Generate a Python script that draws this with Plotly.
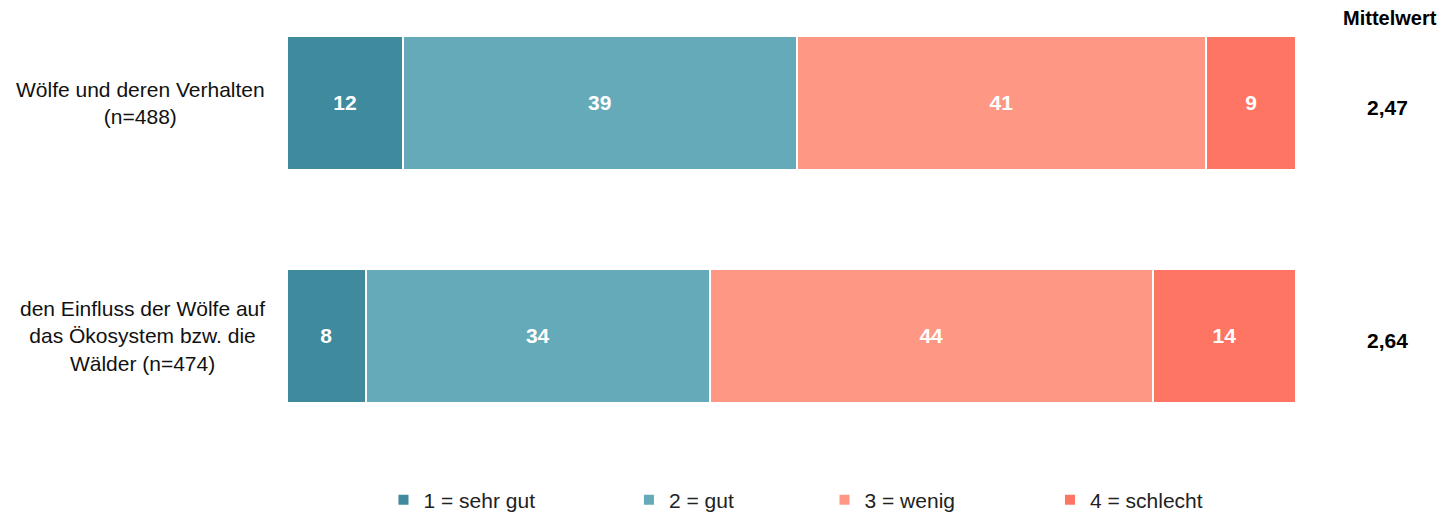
import plotly.graph_objects as go

categories = [
    "Wölfe und deren Verhalten<br>(n=488)",
    "den Einfluss der Wölfe auf<br>das Ökosystem bzw. die<br>Wälder (n=474)",
]
series_names = ["1 = sehr gut", "2 = gut", "3 = wenig", "4 = schlecht"]
series_colors = ["#3F8A9C", "#65AAB9", "#FF9785", "#FF7563"]
# percentage shares per category
values = [
    [11.5, 7.8],
    [39.0, 34.1],
    [40.6, 43.9],
    [8.9, 14.2],
]
labels = [
    ["12", "8"],
    ["39", "34"],
    ["41", "44"],
    ["9", "14"],
]
means = ["2,47", "2,64"]
mean_header = "Mittelwert"

FONT = "Liberation Sans, Arial, sans-serif"
ypos = [0, 1]

FIG_W, FIG_H = 1437, 504  # page body has an 8px margin

fig = go.Figure()
legend_ids = ["legend", "legend2", "legend3", "legend4"]
for i, name in enumerate(series_names):
    fig.add_trace(go.Bar(
        y=ypos, x=values[i], orientation="h", name=name,
        marker=dict(color=series_colors[i], line=dict(color="white", width=2)),
        text=labels[i], textposition="inside", insidetextanchor="middle",
        textangle=0,
        textfont=dict(family=FONT, size=21, color="white", weight="bold"),
        width=0.575, legend=legend_ids[i], hoverinfo="skip",
    ))

layout_legends = {}
legend_x = [0.2613, 0.4321, 0.5682, 0.7251]
for i, lid in enumerate(legend_ids):
    layout_legends[lid] = dict(
        x=legend_x[i], y=0.0238, xref="container", yref="container",
        xanchor="left", yanchor="middle",
        orientation="h", font=dict(family=FONT, size=21, color="#222222"),
        bgcolor="rgba(0,0,0,0)", itemwidth=30,
    )

annotations = []
for yi, cat in zip(ypos, categories):
    annotations.append(dict(
        x=0, y=yi, xref="x", yref="y", text=cat, showarrow=False,
        xanchor="right", yanchor="middle", align="center", xshift=-20,
        font=dict(family=FONT, size=21, color="#111111"),
    ))
for yi, m in zip(ypos, means):
    annotations.append(dict(
        x=1.0902, y=yi, xref="paper", yref="y", text="<b>" + m + "</b>",
        showarrow=False, xanchor="center", yanchor="middle", yshift=-5,
        font=dict(family=FONT, size=21, color="#000000"),
    ))
annotations.append(dict(
    x=1.0932, y=1.005, xref="paper", yref="paper", text="<b>" + mean_header + "</b>",
    showarrow=False, xanchor="center", yanchor="middle",
    font=dict(family=FONT, size=20, color="#000000"),
))

fig.update_layout(
    barmode="stack",
    width=FIG_W, height=FIG_H,
    margin=dict(l=279, r=149, t=12, b=92, autoexpand=False),
    plot_bgcolor="white", paper_bgcolor="white",
    xaxis=dict(range=[0, 100], visible=False, fixedrange=True),
    yaxis=dict(range=[1.361, -0.356], visible=False, fixedrange=True),
    annotations=annotations,
    showlegend=True,
    **layout_legends,
)

fig.write_html("out.html")
